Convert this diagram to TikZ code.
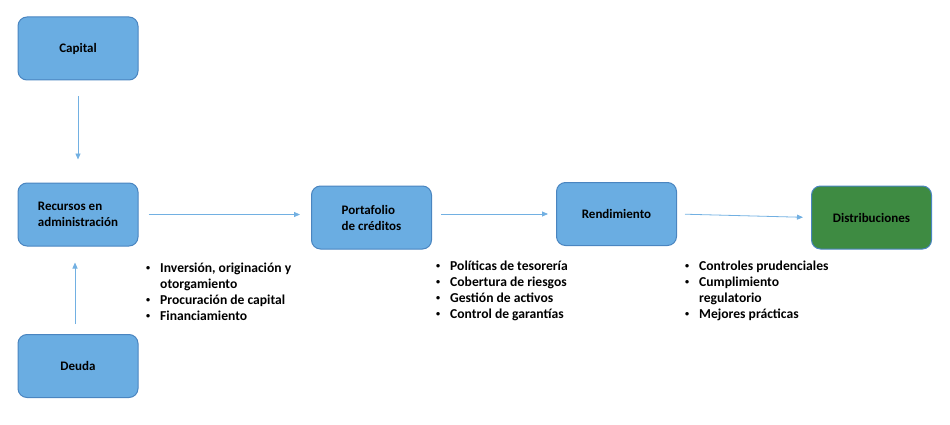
\documentclass[tikz,border=0pt]{standalone}
\usepackage{fontspec}
\setmainfont{Carlito}
\usetikzlibrary{arrows.meta}
\definecolor{boxblue}{HTML}{6AADE2}
\definecolor{boxline}{HTML}{4A85C0}
\definecolor{boxgreen}{HTML}{3E8B42}
\definecolor{arrowblue}{HTML}{72B0E2}
\newcommand{\bitem}{\makebox[14pt][l]{\raisebox{0.3ex}{\scalebox{0.6}{\textbullet}}}}
\begin{document}
\begin{tikzpicture}[x=1pt,y=-1pt,
  box/.style={draw=boxline, line width=1pt, rounded corners=9pt, fill=boxblue,
    minimum width=120pt, minimum height=63pt, inner sep=0pt, align=left,
    font=\bfseries\fontsize{13}{16}\selectfont},
  conn/.style={draw=arrowblue, line width=0.8pt, -{Triangle[width=5pt,length=6pt]}},
  lst/.style={anchor=north west, inner sep=0pt,
    font=\bfseries\fontsize{13.6}{16}\selectfont}]
\useasboundingbox (0,0) rectangle (950,425);
\node[box] (cap) at (78,48.5) {Capital};
\node[box] (rec) at (78,214.5) {Recursos en\\administración};
\node[box] (deu) at (78,366) {Deuda};
\node[box] (por) at (371.5,217.5) {Portafolio\\de créditos};
\node[box] (ren) at (616.5,214) {Rendimiento};
\node[box, fill=boxgreen] (dis) at (871.5,217.5) {Distribuciones};

\draw[conn, shorten <=16pt, shorten >=23pt] (cap.south) -- (rec.north);
\draw[conn, shorten <=10pt, shorten >=16pt] ([xshift=-3pt]deu.north) -- ([xshift=-3pt]rec.south);
\draw[conn, shorten <=10pt, shorten >=11pt] (rec.east) -- (rec.east -| por.west);
\draw[conn, shorten <=9pt, shorten >=8pt] (por.east |- ren.west) -- (ren.west);
\draw[conn, shorten <=8pt, shorten >=8pt] (ren.east) -- (dis.west);

\node[lst] (l1) at (146,261) {\begin{tabular}{@{}l@{}l@{}}
\bitem & Inversión, originación y\\
 & otorgamiento\\
\bitem & Procuración de capital\\
\bitem & Financiamiento
\end{tabular}};
\node[lst] (l2) at (436,259) {\begin{tabular}{@{}l@{}l@{}}
\bitem & Políticas de tesorería\\
\bitem & Cobertura de riesgos\\
\bitem & Gestión de activos\\
\bitem & Control de garantías
\end{tabular}};
\node[lst] (l3) at (685,259) {\begin{tabular}{@{}l@{}l@{}}
\bitem & Controles prudenciales\\
\bitem & Cumplimiento\\
 & regulatorio\\
\bitem & Mejores prácticas
\end{tabular}};
\end{tikzpicture}
\end{document}
